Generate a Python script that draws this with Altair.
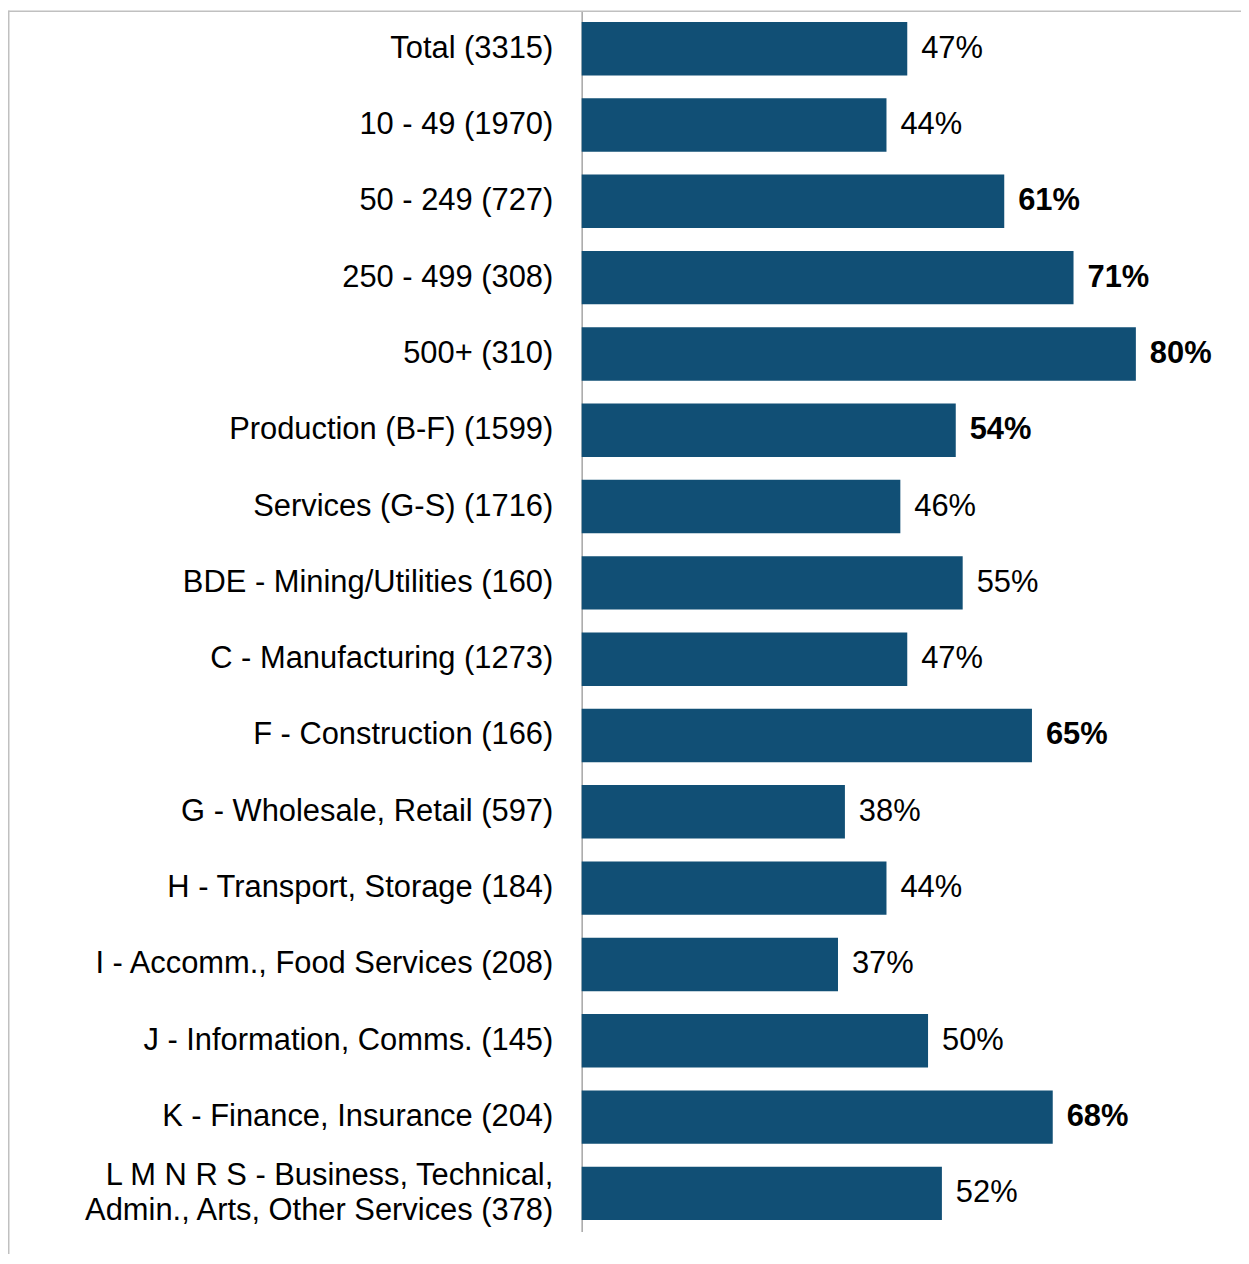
import altair as alt
import pandas as pd

categories = [
    "Total (3315)",
    "10 - 49 (1970)",
    "50 - 249 (727)",
    "250 - 499 (308)",
    "500+ (310)",
    "Production (B-F)  (1599)",
    "Services (G-S)  (1716)",
    "BDE - Mining/Utilities (160)",
    "C - Manufacturing (1273)",
    "F - Construction (166)",
    "G - Wholesale, Retail (597)",
    "H - Transport, Storage (184)",
    "I - Accomm., Food Services (208)",
    "J - Information, Comms. (145)",
    "K - Finance, Insurance (204)",
    "L M N R S - Business, Technical,|Admin., Arts, Other Services (378)",
]
values = [47, 44, 61, 71, 80, 54, 46, 55, 47, 65, 38, 44, 37, 50, 68, 52]
bold = [False, False, True, True, True, True, False, False, False, True,
        False, False, False, False, True, False]

df = pd.DataFrame({"cat": categories, "v": values, "bold": bold})

W = 626
H = 1226
PAD_L = 576
FONT = "Liberation Sans"
FS = 31

y_enc = alt.Y(
    "cat:N",
    sort=categories,
    scale=alt.Scale(paddingInner=0.3, paddingOuter=0.15),
    axis=alt.Axis(
        title=None,
        ticks=False,
        labelFont=FONT,
        labelFontSize=FS,
        labelColor="#000000",
        labelPadding=29,
        labelLimit=600,
        labelLineHeight=35,
        labelExpr="split(datum.label, '|')",
        labelOffset={"condition": {"test": "indexof(datum.value, '|') >= 0", "value": -17}, "value": 0},
        domainColor="#a6a6a6",
        domainWidth=1.5,
        grid=False,
    ),
)
x_enc = alt.X("v:Q", scale=alt.Scale(domain=[0, 90]), axis=None)

base = alt.Chart(df).encode(y=y_enc)

bars = base.mark_bar(color="#114F75").encode(x=x_enc)

text_norm = base.transform_filter("!datum.bold").transform_calculate(
    lab="datum.v + '%'"
).mark_text(align="left", baseline="middle", dx=14, font=FONT, fontSize=FS,
            color="#000000").encode(x=x_enc, text="lab:N")

text_bold = base.transform_filter("datum.bold").transform_calculate(
    lab="datum.v + '%'"
).mark_text(align="left", baseline="middle", dx=14, font=FONT, fontSize=FS,
            fontWeight="bold", color="#000000").encode(x=x_enc, text="lab:N")

border_top = alt.Chart(pd.DataFrame({"a": [0]})).mark_rule(
    color="#c0c0c0", strokeWidth=1.5
).encode(x=alt.value(-PAD_L + 0.5), x2=alt.value(W + 60), y=alt.value(0.75))

border_left = alt.Chart(pd.DataFrame({"a": [0]})).mark_rule(
    color="#c0c0c0", strokeWidth=1.5
).encode(x=alt.value(-PAD_L + 0.75), y=alt.value(0), y2=alt.value(H + 30))

chart = alt.layer(bars, text_norm, text_bold, border_top, border_left).properties(
    width=W,
    height=H,
    background="white",
    autosize=alt.AutoSizeParams(type="none"),
    padding={"left": PAD_L, "top": 0, "right": 36, "bottom": 20},
).configure_view(strokeWidth=0, stroke=None)

chart.save("out.html", embed_options={"renderer": "svg", "actions": False})
